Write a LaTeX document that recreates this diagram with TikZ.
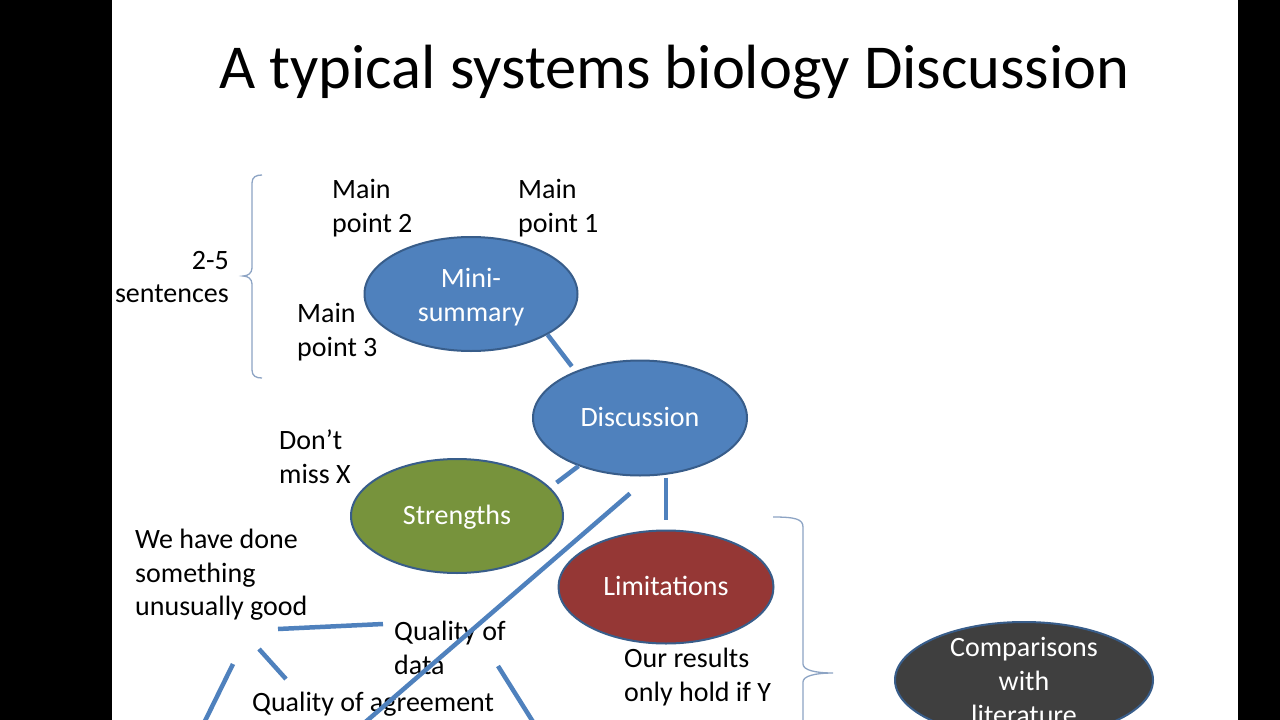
\documentclass[tikz,border=0pt]{standalone}
\usepackage{fontspec}
\setmainfont{Carlito}
\usetikzlibrary{shapes.geometric,calc}
\definecolor{accblue}{HTML}{4F81BD}
\definecolor{outl}{HTML}{385D8A}
\definecolor{accgreen}{HTML}{77933C}
\definecolor{accred}{HTML}{953735}
\definecolor{accgrey}{HTML}{3F3F3F}
\definecolor{bracecol}{HTML}{8DA4C4}
\begin{document}
\begin{tikzpicture}[x=1pt,y=-1pt,
  oval/.style={ellipse,draw=outl,line width=2pt,inner sep=0pt,text=white,
     font=\fontsize{28}{33.6}\selectfont,text height=20pt,text depth=4pt},
  eltext/.style={text=white,inner sep=0pt,font=\fontsize{28}{33.6}\selectfont,align=center},
  txt/.style={inner sep=0pt,anchor=north west,align=left,font=\fontsize{28}{33.6}\selectfont},
  conn/.style={draw=accblue,line width=4.5pt},
  bracel/.style={draw=bracecol,line width=1.3pt}]
\useasboundingbox (0,0) rectangle (1280,720);
\clip (0,0) rectangle (1280,720);
\fill[white] (0,0) rectangle (1280,720);
\fill[black] (0,0) rectangle (112,720);
\fill[black] (1238,0) rectangle (1280,720);

% title
\node[inner sep=0pt,anchor=base,font=\fontsize{62.5}{75}\selectfont] (title) at (674.5,88) {A typical systems biology Discussion};

% ellipses
\node[oval,fill=accblue,minimum width=213pt,minimum height=114pt] (mini) at (471,294) {};
\node[eltext] (minitext) at (471,297) {Mini-\\summary};
\node[oval,fill=accblue,minimum width=214pt,minimum height=115pt] (disc) at (640,418) {Discussion};
\node[oval,fill=accgreen,minimum width=212pt,minimum height=114pt] (str) at (457,516) {Strengths};
\node[oval,fill=accred,minimum width=215pt,minimum height=113pt] (lim) at (666,587) {Limitations};
\node[oval,fill=accgrey,minimum width=258pt,minimum height=116pt] (comp) at (1024,680) {};
\node[eltext] (comptext) at (1024,681) {Comparisons\\with\\literature};

% free texts
\node[txt] (mp2) at (332,179) {Main\\point 2};
\node[txt] (mp1) at (518,179) {Main\\point 1};
\node[txt,anchor=north east,align=right] (sent) at (229,251) {2-5\\sentences};
\node[txt] (mp3) at (297,303) {Main\\point 3};
\node[txt] (dont) at (279,430) {Don’t\\miss X};
\node[txt] (good) at (135,529) {We have done\\something\\unusually good};
\node[txt] (qdata) at (394,621) {Quality of\\data};
\node[txt] (qagree) at (252,691.5) {Quality of agreement};
\node[txt] (ours) at (624,648) {Our results\\only hold if Y};

% connectors between ovals
\draw[conn,shorten >=6pt] (mini.-28.6) -- (disc.144.8);
\draw[conn,shorten <=8pt] (str.17.7) -- (disc.218.3);
\draw[conn,shorten <=1pt,shorten >=10pt] (lim.north |- disc.south) -- (lim.north);
\coordinate (diagend) at (362,725);
\draw[conn] ($(disc.south)+(-10,17)$) -- (diagend);

% short free lines
\coordinate (l1a) at (278,629);
\coordinate (l1b) at (383,624);
\draw[conn] (l1a) -- (l1b);
\coordinate (l2a) at (259,649);
\coordinate (l2b) at (286,679);
\draw[conn] (l2a) -- (l2b);
\coordinate (l3a) at (233,664);
\coordinate (l3b) at (203,725);
\draw[conn] (l3a) -- (l3b);
\coordinate (l4a) at (498,666);
\coordinate (l4b) at (535,725);
\draw[conn] (l4a) -- (l4b);

% braces
\draw[bracel] (262,175) .. controls (256,175) and (252,177) .. (252,183) -- (252,268)
   .. controls (252,273) and (248,276) .. (243,276)
   .. controls (248,276) and (252,279) .. (252,284) -- (252,370)
   .. controls (252,376) and (256,378) .. (262,378);
\draw[bracel] (773,517) .. controls (795,517) and (803,519) .. (803,527) -- (803,664)
   .. controls (803,670) and (815,673) .. (833,673)
   .. controls (815,673) and (803,676) .. (803,682) -- (803,820);
\end{tikzpicture}
\end{document}
